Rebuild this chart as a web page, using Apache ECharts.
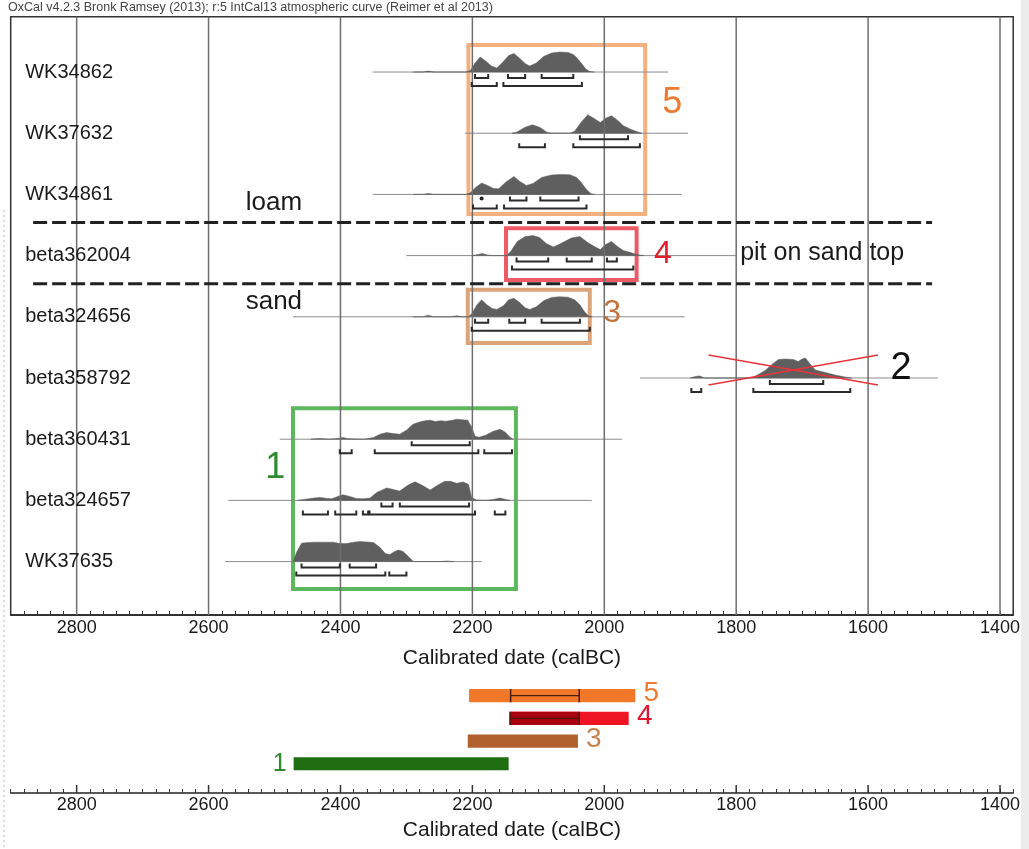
<!DOCTYPE html>
<html><head><meta charset="utf-8">
<script src="https://cdn.jsdelivr.net/npm/echarts@6/dist/echarts.min.js"></script>
<style>html,body{margin:0;padding:0;background:#fff}#c{width:1029px;height:849px}</style>
</head><body><div id="c"></div><script>
const FONT = '"Liberation Sans", Arial, Helvetica, sans-serif';

// ---------- data ----------
const sampleNames = ['WK34862','WK37632','WK34861','beta362004','beta324656','beta358792','beta360431','beta324657','WK37635'];
const majorYears = [2800,2600,2400,2200,2000,1800,1600,1400];

// baseline extents [from, to] (cal BC)
const baselines = [[2351,1903],[2211,1873],[2351,1883],[2300,1800],[2472,1878],[1946,1494],[2492,1973],[2570,2019],[2575,2186]];

// probability distributions [year, relative probability]
const distWK34862 = [[2290,0],[2275,0],[2267,0.05],[2258,0],[2210,0],[2203,0.08],[2196,0.45],[2188,0.75],[2180,0.55],[2171,0.3],[2163,0.2],[2155,0.45],[2145,0.82],[2137,0.93],[2128,0.68],[2120,0.42],[2113,0.3],[2103,0.45],[2092,0.78],[2080,0.95],[2068,1.0],[2055,0.98],[2047,0.88],[2042,0.72],[2035,0.45],[2028,0.15],[2022,0.02],[2015,0]];
const distWK37632 = [[2140,0],[2133,0.05],[2120,0.3],[2109,0.42],[2098,0.3],[2087,0.05],[2080,0],[2052,0],[2045,0.1],[2035,0.55],[2025,0.92],[2016,0.75],[2006,0.53],[1998,0.75],[1989,0.87],[1980,0.65],[1971,0.37],[1960,0.2],[1950,0.07],[1943,0]];
const distWK34861 = [[2290,0],[2275,0],[2267,0.05],[2258,0],[2210,0],[2203,0.08],[2195,0.35],[2186,0.57],[2177,0.45],[2168,0.3],[2160,0.28],[2150,0.6],[2137,0.9],[2128,0.65],[2118,0.45],[2108,0.55],[2095,0.85],[2080,0.97],[2065,1.0],[2052,0.98],[2042,0.85],[2035,0.6],[2027,0.25],[2020,0.03],[2015,0]];
const distBeta362004 = [[2200,0],[2192,0.05],[2185,0.1],[2178,0.04],[2170,0],[2148,0],[2142,0.2],[2132,0.7],[2120,0.95],[2108,1.0],[2098,0.9],[2088,0.6],[2077,0.43],[2066,0.6],[2050,0.88],[2037,0.95],[2025,0.65],[2015,0.45],[2006,0.3],[1998,0.55],[1989,0.7],[1980,0.45],[1971,0.25],[1960,0.15],[1951,0.05],[1940,0]];
const distBeta324656 = [[2290,0],[2275,0],[2267,0.08],[2258,0],[2235,0],[2224,0.05],[2215,0],[2206,0],[2201,0.15],[2193,0.6],[2186,0.85],[2178,0.6],[2170,0.42],[2163,0.37],[2153,0.55],[2145,0.85],[2137,0.93],[2128,0.7],[2120,0.45],[2113,0.37],[2103,0.5],[2092,0.8],[2080,0.97],[2068,1.0],[2055,0.98],[2045,0.85],[2037,0.6],[2030,0.25],[2024,0.05],[2018,0]];
const distBeta358792 = [[1870,0],[1862,0.08],[1855,0.1],[1848,0],[1785,0],[1774,0.05],[1765,0.2],[1756,0.38],[1745,0.7],[1736,0.92],[1725,0.95],[1713,0.92],[1706,0.82],[1700,0.95],[1695,1.0],[1688,0.7],[1680,0.4],[1665,0.28],[1650,0.15],[1635,0.05],[1625,0]];
const distBeta360431 = [[2445,0],[2431,0.04],[2418,0],[2405,0.03],[2396,0.08],[2388,0.02],[2365,0],[2350,0.08],[2340,0.25],[2330,0.33],[2320,0.28],[2310,0.25],[2300,0.45],[2290,0.75],[2279,0.87],[2270,0.93],[2264,0.95],[2256,0.88],[2249,0.92],[2240,0.9],[2230,0.95],[2224,1.0],[2215,0.97],[2207,0.95],[2201,0.6],[2196,0.15],[2190,0.1],[2180,0.2],[2168,0.4],[2158,0.5],[2150,0.35],[2143,0.1],[2138,0]];
const distBeta324657 = [[2465,0],[2455,0.05],[2440,0.12],[2431,0.15],[2420,0.1],[2413,0.08],[2404,0.2],[2396,0.28],[2386,0.2],[2376,0.1],[2365,0.08],[2355,0.12],[2345,0.4],[2330,0.62],[2320,0.55],[2310,0.47],[2298,0.75],[2287,0.93],[2276,0.75],[2264,0.52],[2253,0.75],[2242,0.95],[2233,0.95],[2224,0.85],[2214,0.92],[2206,0.8],[2201,0.15],[2194,0.02],[2180,0],[2168,0.05],[2158,0.12],[2150,0.05],[2143,0]];
const distWK37635 = [[2472,0],[2466,0.5],[2459,0.92],[2450,0.95],[2439,0.97],[2425,0.97],[2411,0.97],[2401,0.9],[2391,0.9],[2380,0.97],[2370,1.0],[2360,0.98],[2350,0.95],[2340,0.7],[2332,0.4],[2325,0.35],[2318,0.5],[2312,0.58],[2305,0.5],[2297,0.25],[2290,0.02],[2285,0],[2250,0],[2239,0.03],[2228,0]];
const dists = [distWK34862,distWK37632,distWK34861,distBeta362004,distBeta324656,distBeta358792,distBeta360431,distBeta324657,distWK37635];

// 68.2% and 95.4% ranges
const range68 = [
  [[2196,2176],[2146,2120],[2095,2047]],
  [[2037,1964]],
  [[2187,2185],[2143,2118],[2097,2039]],
  [[2133,2085],[2057,2019],[1996,1981]],
  [[2196,2176],[2144,2120],[2095,2037]],
  [[1749,1668]],
  [[2292,2204]],
  [[2338,2321],[2310,2205]],
  [[2459,2401],[2386,2346]]
];
const range95 = [
  [[2201,2163],[2153,2034]],
  [[2129,2090],[2047,1946]],
  [[2199,2163],[2152,2027]],
  [[2140,1956]],
  [[2201,2022]],
  [[1868,1853],[1774,1627]],
  [[2401,2383],[2348,2191],[2182,2140]],
  [[2457,2419],[2408,2376],[2366,2358],[2356,2196],[2166,2150]],
  [[2467,2332],[2326,2300]]
];

// grouping boxes [fromYear, toYear, topRow, bottomRow]
const boxLabels = ['5','4','3','1'];
const boxExtents = [[2206,1938,-0.44,2.32],[2149,1951,2.554,3.4],[2207,2022,3.56,4.43],[2472,2134,5.495,8.45]];
const boxColors = ['#F5B07F','#EE5A66','#DBA479','#5DB75D'];

// layer boundaries [fromYear, toYear, row]
const boundaries = [[2866,1503,2.46],[2866,1503,3.46]];
// rejected sample cross [fromYear, toYear, topRow, bottomRow]
const crossOut = [1842,1585,4.624,5.114];

// annotations [year, row, text, color, size, align]
const notes = [
  [2501,2.14,'loam','#1a1a1a',26,'center'],
  [2501,3.76,'sand','#1a1a1a',26,'center'],
  [1794,2.96,'pit on sand top','#1a1a1a',25,'left'],
  [1897,0.507,'5','#F07A30',36,'center'],
  [1911,2.97,'4','#E3202A',32,'center'],
  [1988,3.94,'3','#C4743A',32,'center'],
  [1550,4.85,'2','#111',38,'center'],
  [2499,6.47,'1','#2E8B2E',36,'center']
];

// summary of groups (bottom panel)
const sumLabels = ['5','4','3','1'];
const sumStart = [2205,2143,2207,2471];
const sumEnd = [1953,1963,2040,2145];
const sumColors = ['#F07828','#EE1424','#B0602C','#1F6E12'];
const sumLabelColors = ['#F07A30','#E3142E','#C8824E','#2E8B2E'];
const sumInner = [[2142,2038],[2143,2038],null,null];

// ---------- layout helpers ----------
const X_MIN = 1380, X_MAX = 2900;
const Y0_MIN = -0.904, Y0_MAX = 8.873;
const Y1_MIN = -1, Y1_MAX = 4.29;
const DH = 0.327; // peak height in row units

const chart = echarts.init(document.getElementById('c'), null, {renderer:'canvas'});

function xAxisCfg(gi, nameGap, margin){
  return {
    gridIndex: gi, type:'value', inverse:true, min:X_MIN, max:X_MAX, interval:20,
    axisLine:{show:true, onZero:false, lineStyle:{color:'#222', width:1.5}},
    axisTick:{show:true, inside:true, length:4, lineStyle:{color:'#333', width:1}},
    axisLabel:{formatter:v => (Math.round(v) % 200 === 0 ? String(Math.round(v)) : ''),
      color:'#1a1a1a', fontSize:18, fontFamily:FONT, margin:margin, showMinLabel:true, showMaxLabel:true},
    splitLine:{show:false},
    name:'Calibrated date (calBC)', nameLocation:'middle', nameGap:nameGap,
    nameTextStyle:{fontSize:21, color:'#1a1a1a', fontFamily:FONT}
  };
}

const bracketData = [];
range68.forEach((rs,i)=>rs.forEach(r=>bracketData.push([r[0],r[1],i,1])));
range95.forEach((rs,i)=>rs.forEach(r=>bracketData.push([r[0],r[1],i,2])));

const option = {
  animation:false,
  backgroundColor:'#fff',
  grid:[
    {left:10.7, right:15.8, top:16.7, bottom:234, show:true, borderColor:'#333', borderWidth:1.5, backgroundColor:'transparent'},
    {left:10.7, right:15.8, top:673, bottom:56, show:false}
  ],
  xAxis:[xAxisCfg(0,33,4), xAxisCfg(1,27,3)],
  yAxis:[
    {gridIndex:0, type:'value', inverse:true, min:Y0_MIN, max:Y0_MAX, show:false},
    {gridIndex:1, type:'value', inverse:true, min:Y1_MIN, max:Y1_MAX, show:false}
  ],
  graphic:[
    {type:'text', left:8, top:1, style:{text:'OxCal v4.2.3 Bronk Ramsey (2013); r:5 IntCal13 atmospheric curve (Reimer et al 2013)', fill:'#444', font:'12.5px '+FONT}},
    {type:'rect', shape:{x:1021, y:0, width:8, height:849}, style:{fill:'#ececec'}, z:-1},
    {type:'line', shape:{x1:4, y1:210, x2:4, y2:849}, style:{stroke:'#bbb', lineWidth:1, lineDash:[2,3]}}
  ],
  series:[
    // grouping boxes
    {type:'custom', xAxisIndex:0, yAxisIndex:0, z:1, data:boxExtents.map((b,i)=>[b[0],b[2],i]),
     renderItem(params, api){
       const b = boxExtents[params.dataIndex];
       const p0 = api.coord([b[0], b[2]]), p1 = api.coord([b[1], b[3]]);
       return {type:'rect', shape:{x:p0[0], y:p0[1], width:p1[0]-p0[0], height:p1[1]-p0[1]},
         style:{fill:null, stroke:boxColors[params.dataIndex], lineWidth:4}};
     }},
    // baselines
    {type:'custom', xAxisIndex:0, yAxisIndex:0, z:2, data:baselines.map((b,i)=>[b[0],i]),
     renderItem(params, api){
       const i = params.dataIndex, b = baselines[i];
       const p0 = api.coord([b[0], i]), p1 = api.coord([b[1], i]);
       return {type:'line', shape:{x1:p0[0], y1:p0[1], x2:p1[0], y2:p1[1]}, style:{stroke:'#8c8c8c', lineWidth:1}};
     }},
    // distributions
    {type:'custom', xAxisIndex:0, yAxisIndex:0, z:3, data:dists.map((d,i)=>[d[0][0],i]),
     renderItem(params, api){
       const i = params.dataIndex, d = dists[i];
       const pts = d.map(([yr,v]) => api.coord([yr, i - v*DH]));
       pts.unshift(api.coord([d[0][0], i]));
       pts.push(api.coord([d[d.length-1][0], i]));
       return {type:'polygon', shape:{points:pts}, style:{fill:'#5f5f5f', stroke:'#5f5f5f', lineWidth:0.5}};
     }},
    // vertical grid lines
    {type:'custom', xAxisIndex:0, yAxisIndex:0, z:4, data:majorYears.map(y=>[y,0]),
     renderItem(params, api){
       const yr = majorYears[params.dataIndex];
       const p0 = api.coord([yr, Y0_MIN]), p1 = api.coord([yr, Y0_MAX]);
       return {type:'line', shape:{x1:p0[0], y1:p0[1], x2:p1[0], y2:p1[1]}, style:{stroke:'#6e6e6e', lineWidth:1.5}};
     }},
    // range brackets
    {type:'custom', xAxisIndex:0, yAxisIndex:0, z:5, data:bracketData.map(b=>[b[0],b[2]]),
     renderItem(params, api){
       const [a,b,row,lvl] = bracketData[params.dataIndex];
       const off = lvl === 1 ? 6 : 14;
       const p0 = api.coord([a,row]), p1 = api.coord([b,row]);
       const y = p0[1] + off;
       if (Math.abs(p1[0]-p0[0]) < 4) {
         return {type:'circle', shape:{cx:(p0[0]+p1[0])/2, cy:y-2, r:2}, style:{fill:'#222'}};
       }
       return {type:'polyline', shape:{points:[[p0[0],y-4],[p0[0],y],[p1[0],y],[p1[0],y-4]]},
         style:{stroke:'#2b2b2b', lineWidth:2, fill:null}};
     }},
    // layer boundaries (dashed)
    {type:'custom', xAxisIndex:0, yAxisIndex:0, z:6, data:boundaries.map(b=>[b[0],b[2]]),
     renderItem(params, api){
       const b = boundaries[params.dataIndex];
       const p0 = api.coord([b[0], b[2]]), p1 = api.coord([b[1], b[2]]);
       return {type:'line', shape:{x1:p0[0], y1:p0[1], x2:p1[0], y2:p1[1]},
         style:{stroke:'#222', lineWidth:3, lineDash:[14,5]}};
     }},
    // red cross
    {type:'custom', xAxisIndex:0, yAxisIndex:0, z:7, data:[[crossOut[0],crossOut[2]]],
     renderItem(params, api){
       const a = api.coord([crossOut[0], crossOut[2]]), b = api.coord([crossOut[1], crossOut[3]]);
       return {type:'group', children:[
         {type:'line', shape:{x1:a[0], y1:a[1], x2:b[0], y2:b[1]}, style:{stroke:'#E8353A', lineWidth:1.5}},
         {type:'line', shape:{x1:a[0], y1:b[1], x2:b[0], y2:a[1]}, style:{stroke:'#E8353A', lineWidth:1.5}}
       ]};
     }},
    // sample labels
    {type:'custom', xAxisIndex:0, yAxisIndex:0, z:8, data:sampleNames.map((n,i)=>[2878,i]),
     renderItem(params, api){
       const p = api.coord([2878, params.dataIndex]);
       return {type:'text', x:p[0], y:p[1], style:{text:sampleNames[params.dataIndex], fill:'#1a1a1a',
         font:'20px '+FONT, align:'left', verticalAlign:'middle'}};
     }},
    // annotations
    {type:'custom', xAxisIndex:0, yAxisIndex:0, z:9, data:notes.map(n=>[n[0],n[1]]),
     renderItem(params, api){
       const n = notes[params.dataIndex];
       const p = api.coord([n[0], n[1]]);
       return {type:'text', x:p[0], y:p[1], style:{text:n[2], fill:n[3], font:n[4]+'px '+FONT,
         align:n[5], verticalAlign:'middle'}};
     }},
    // bottom panel: major ticks
    {type:'custom', xAxisIndex:1, yAxisIndex:1, z:4, data:majorYears.map(y=>[y,Y1_MAX]),
     renderItem(params, api){
       const p = api.coord([majorYears[params.dataIndex], Y1_MAX]);
       return {type:'line', shape:{x1:p[0], y1:p[1], x2:p[0], y2:p[1]-8}, style:{stroke:'#333', lineWidth:1.5}};
     }},
    // bottom panel: summary bars
    {type:'custom', xAxisIndex:1, yAxisIndex:1, z:5, data:sumLabels.map((l,i)=>[sumStart[i],i]),
     renderItem(params, api){
       const i = params.dataIndex;
       const h = api.size([0, 0.58])[1];
       const p0 = api.coord([sumStart[i], i]), p1 = api.coord([sumEnd[i], i]);
       const children = [{type:'rect', shape:{x:p0[0], y:p0[1]-h/2, width:p1[0]-p0[0], height:h}, style:{fill:sumColors[i]}}];
       const inner = sumInner[i];
       if (inner) {
         const q0 = api.coord([inner[0], i]), q1 = api.coord([inner[1], i]);
         if (i === 1) {
           children.push({type:'rect', shape:{x:q0[0], y:q0[1]-h/2, width:q1[0]-q0[0], height:h}, style:{fill:'#A8000E'}});
         }
         children.push({type:'line', shape:{x1:q0[0], y1:q0[1], x2:q1[0], y2:q1[1]}, style:{stroke:'#4a1a08', lineWidth:1.2}});
         children.push({type:'line', shape:{x1:q0[0], y1:q0[1]-h/2, x2:q0[0], y2:q0[1]+h/2}, style:{stroke:'#4a1a08', lineWidth:1.5}});
         children.push({type:'line', shape:{x1:q1[0], y1:q1[1]-h/2, x2:q1[0], y2:q1[1]+h/2}, style:{stroke:'#4a1a08', lineWidth:1.5}});
       }
       const lx = i === 3 ? p0[0] - 14 : p1[0] + 16;
       children.push({type:'text', x:lx, y:p0[1] - (i===3?0:2), style:{text:sumLabels[i], fill:sumLabelColors[i],
         font:(i===3?'25px ':'28px ')+FONT, align:'center', verticalAlign:'middle'}});
       return {type:'group', children};
     }}
  ]
};
chart.setOption(option);
</script></body></html>
